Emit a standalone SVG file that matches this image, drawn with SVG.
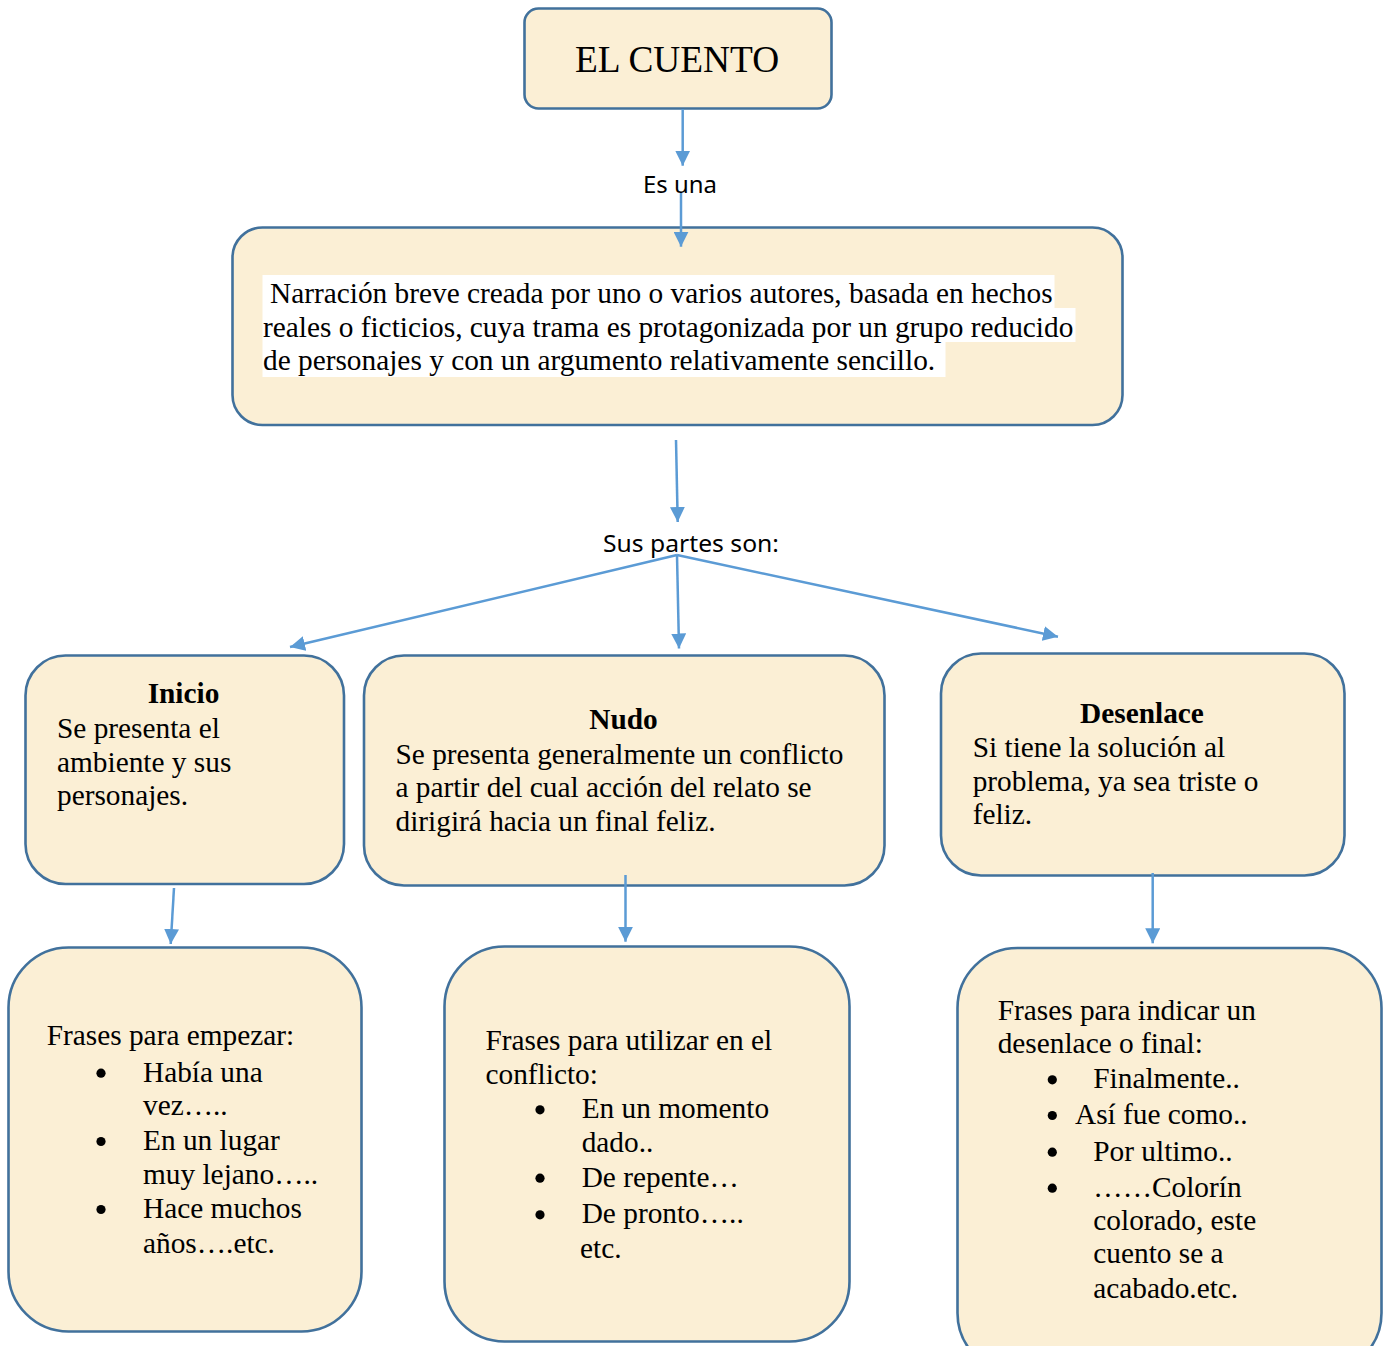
<svg xmlns="http://www.w3.org/2000/svg" width="1388" height="1346" viewBox="0 0 1388 1346">
<defs>
<style>
.box{fill:#FBEFD5;stroke:#41719C;stroke-width:2.6}
.conn line{stroke:#5B9BD5;stroke-width:2.5;fill:none;marker-end:url(#ah)}
.t{font-family:"Liberation Serif","Times New Roman",serif;font-size:29.33px;fill:#000}
.b{font-weight:bold}
.lbl{font-family:"Noto Sans","Open Sans",sans-serif;font-size:24px;fill:#000}
.hl{fill:#FFFFFF}
.bul{fill:#000}
</style>
<marker id="ah" markerUnits="userSpaceOnUse" markerWidth="15" markerHeight="15" viewBox="0 0 15 15" refX="15" refY="7.5" orient="auto">
<path d="M0,0 L15,7.5 L0,15 z" fill="#5B9BD5"/>
</marker>
</defs>
<rect width="1388" height="1346" fill="#FFFFFF"/>

<g id="node-cuento">
<rect class="box" x="524.5" y="8.5" width="307" height="100" rx="14"/>
<text class="t" x="677" y="72" text-anchor="middle" style="font-size:37.33px">EL CUENTO</text>
</g>

<g id="node-definicion">
<rect class="box" x="232.5" y="227.5" width="890" height="197.5" rx="30"/>
<rect class="hl" x="262.5" y="275" width="792" height="33"/>
<rect class="hl" x="262.5" y="308" width="813" height="34"/>
<rect class="hl" x="262.5" y="342" width="683" height="35"/>
<text class="t" x="270" y="303">Narración breve creada por uno o varios autores, basada en hechos</text>
<text class="t" x="263" y="336.5">reales o ficticios, cuya trama es protagonizada por un grupo reducido</text>
<text class="t" x="263" y="370">de personajes y con un argumento relativamente sencillo.</text>
</g>

<g id="label-es-una">
<text class="lbl" x="643" y="192.5" textLength="74" lengthAdjust="spacingAndGlyphs">Es una</text>
</g>

<g id="label-sus-partes">
<text class="lbl" x="603" y="551.5" textLength="176" lengthAdjust="spacingAndGlyphs">Sus partes son:</text>
</g>

<g id="node-inicio">
<rect class="box" x="25.5" y="655.5" width="318.5" height="228.5" rx="40"/>
<text class="t b" x="183.5" y="703" text-anchor="middle">Inicio</text>
<text class="t" x="57" y="738">Se presenta el</text>
<text class="t" x="57" y="771.5">ambiente y sus</text>
<text class="t" x="57" y="805">personajes.</text>
</g>

<g id="node-nudo">
<rect class="box" x="364" y="655.5" width="520.5" height="230" rx="40"/>
<text class="t b" x="623.5" y="729" text-anchor="middle">Nudo</text>
<text class="t" x="395.5" y="763.5">Se presenta generalmente un conflicto</text>
<text class="t" x="395.5" y="797">a partir del cual acción del relato se</text>
<text class="t" x="395.5" y="831">dirigirá hacia un final feliz.</text>
</g>

<g id="node-desenlace">
<rect class="box" x="941" y="653.5" width="403.5" height="222" rx="40"/>
<text class="t b" x="1142" y="723" text-anchor="middle">Desenlace</text>
<text class="t" x="972.7" y="757">Si tiene la solución al</text>
<text class="t" x="972.7" y="791">problema, ya sea triste o</text>
<text class="t" x="972.7" y="824">feliz.</text>
</g>

<g id="node-frases-inicio">
<rect class="box" x="8.5" y="947.5" width="353" height="384" rx="60"/>
<text class="t" x="46.7" y="1045">Frases para empezar:</text>
<circle class="bul" cx="101" cy="1073.2" r="4.6"/>
<text class="t" x="143" y="1081.7">Había una</text>
<text class="t" x="143" y="1115">vez…..</text>
<circle class="bul" cx="101" cy="1141.5" r="4.6"/>
<text class="t" x="143" y="1150">En un lugar</text>
<text class="t" x="143" y="1183.5">muy lejano…..</text>
<circle class="bul" cx="101" cy="1209.5" r="4.6"/>
<text class="t" x="143" y="1218">Hace muchos</text>
<text class="t" x="143" y="1253">años….etc.</text>
</g>

<g id="node-frases-nudo">
<rect class="box" x="444.5" y="946.5" width="405" height="395" rx="60"/>
<text class="t" x="485.5" y="1050">Frases para utilizar en el</text>
<text class="t" x="485.5" y="1083.5">conflicto:</text>
<circle class="bul" cx="540" cy="1109.8" r="4.6"/>
<text class="t" x="581.7" y="1118.3">En un momento</text>
<text class="t" x="581.7" y="1151.7">dado..</text>
<circle class="bul" cx="540" cy="1178.2" r="4.6"/>
<text class="t" x="581.7" y="1186.7">De repente…</text>
<circle class="bul" cx="540" cy="1214.8" r="4.6"/>
<text class="t" x="581.7" y="1223.3">De pronto…..</text>
<text class="t" x="580" y="1258.3">etc.</text>
</g>

<g id="node-frases-desenlace">
<rect class="box" x="957.5" y="948" width="424" height="425" rx="60"/>
<text class="t" x="997.7" y="1020">Frases para indicar un</text>
<text class="t" x="997.7" y="1053.3">desenlace o final:</text>
<circle class="bul" cx="1052.3" cy="1079.8" r="4.6"/>
<text class="t" x="1093.3" y="1088.3">Finalmente..</text>
<circle class="bul" cx="1052.3" cy="1115.5" r="4.6"/>
<text class="t" x="1075" y="1124">Así fue como..</text>
<circle class="bul" cx="1052.3" cy="1152.2" r="4.6"/>
<text class="t" x="1093.3" y="1160.7">Por ultimo..</text>
<circle class="bul" cx="1052.3" cy="1188.2" r="4.6"/>
<text class="t" x="1093.3" y="1196.7">……Colorín</text>
<text class="t" x="1093.3" y="1230">colorado, este</text>
<text class="t" x="1093.3" y="1263.3">cuento se a</text>
<text class="t" x="1093.3" y="1298.3">acabado.etc.</text>
</g>

<g id="connectors" class="conn">
<line x1="682.7" y1="109" x2="682.7" y2="165.7"/>
<line x1="681" y1="193" x2="681" y2="246.7"/>
<line x1="676" y1="440" x2="677.7" y2="522"/>
<line x1="677" y1="555" x2="290" y2="647"/>
<line x1="677" y1="555" x2="679" y2="648.5"/>
<line x1="677" y1="555" x2="1058" y2="636.7"/>
<line x1="174" y1="888" x2="170.7" y2="944"/>
<line x1="625.5" y1="875" x2="625.5" y2="941.7"/>
<line x1="1152.7" y1="873" x2="1152.7" y2="943.3"/>
</g>
</svg>
